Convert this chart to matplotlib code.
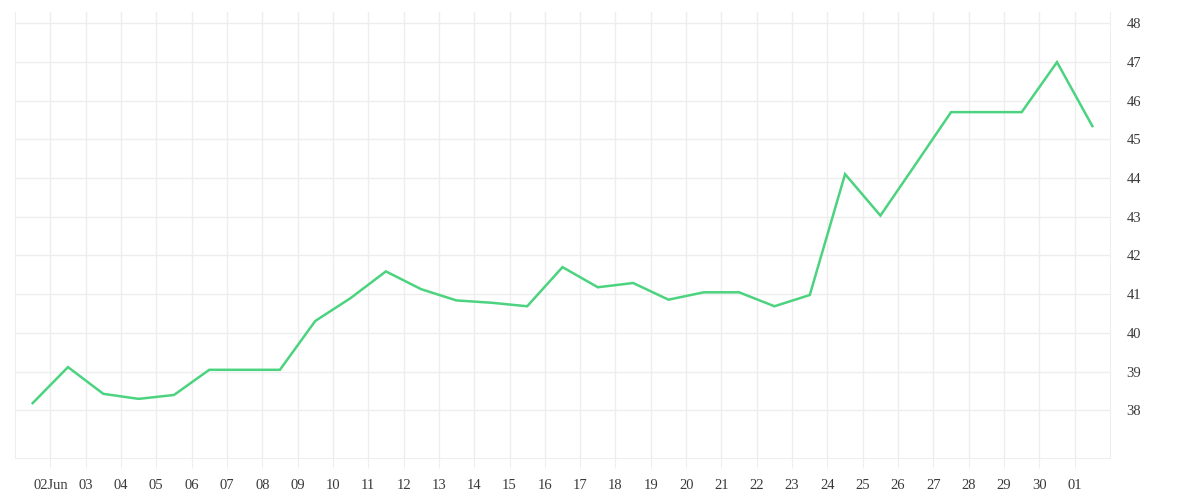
import matplotlib
matplotlib.use("Agg")
import matplotlib.pyplot as plt
import pandas as pd

# daily values, 1 Jun .. 1 Jul (plotted at midday)
dates = pd.date_range("2024-06-01 12:00", "2024-07-01 12:00", freq="D")
values = [38.19, 39.12, 38.43, 38.30, 38.40, 39.05, 39.05, 39.05, 40.31, 40.90,
          41.59, 41.13, 40.84, 40.78, 40.69, 41.70, 41.18, 41.29, 40.86, 41.05,
          41.05, 40.69, 40.98, 44.10, 43.03, 44.36, 45.70, 45.70, 45.70, 46.99,
          45.34]

tick_days = pd.date_range("2024-06-02", "2024-07-01", freq="D")
tick_labels = ["02Jun"] + [d.strftime("%d") for d in tick_days[1:]]
y_ticks = [38, 39, 40, 41, 42, 43, 44, 45, 46, 47, 48]

grid_col = "#eeeeee"
text_col = "#3a3a3a"
plt.rcParams["font.family"] = ["Liberation Serif", "DejaVu Serif"]

fig = plt.figure(figsize=(12, 5), dpi=100)
ax = fig.add_axes([15 / 1200, 1 - 458 / 500, 1095 / 1200, 446 / 500])

ax.plot(dates, values, color="#4cd37f", linewidth=1.8, solid_joinstyle="miter")

ax.set_xlim(pd.Timestamp("2024-06-01"), pd.Timestamp("2024-07-02"))
ax.set_ylim(36.774, 48.284)

ax.set_xticks(tick_days)
ax.set_xticklabels(tick_labels)
ax.set_yticks(y_ticks)
ax.yaxis.tick_right()

ax.grid(True, color=grid_col, linewidth=1)
ax.set_axisbelow(True)
for side in ["left", "right", "bottom"]:
    ax.spines[side].set_color(grid_col)
ax.spines["top"].set_visible(False)

ax.tick_params(axis="x", length=7.2, color=grid_col, labelcolor=text_col,
               labelsize=10.5, pad=8)
ax.tick_params(axis="y", length=0, labelcolor=text_col, labelsize=10.5, pad=12)

fig.savefig("out.png", dpi=100)
